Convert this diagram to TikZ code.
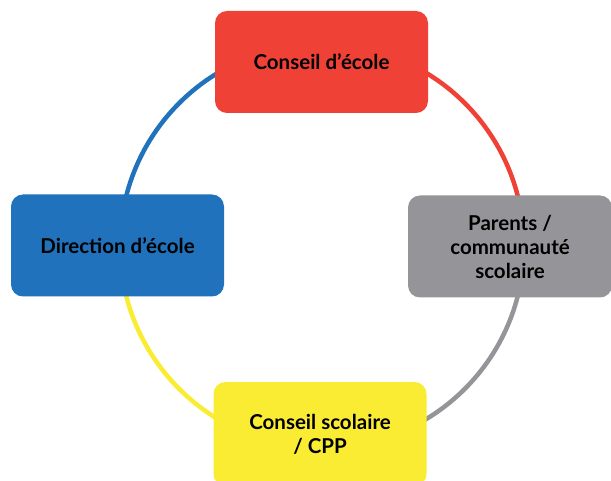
\documentclass[tikz,border=0pt]{standalone}
\usepackage{fontspec}
\setmainfont{Lato}
\usetikzlibrary{positioning}
\definecolor{boxred}{RGB}{239,65,54}
\definecolor{boxblue}{RGB}{31,114,187}
\definecolor{boxgray}{RGB}{149,149,153}
\definecolor{boxyellow}{RGB}{250,235,51}

\begin{document}
\begin{tikzpicture}[x=1pt,y=-1pt,
	box/.style={rectangle,rounded corners=12pt,align=center,
		font=\fontsize{20.5}{24}\selectfont\bfseries,text=black,
		minimum width=213pt,minimum height=102pt,inner sep=2pt},
	ring/.style={line width=4.5pt}]
\useasboundingbox (0,0) rectangle (611,481);
\coordinate (c) at (322,246);
	% y points down, so the angles run clockwise
	\draw[ring,color=boxblue] (c) ++(180:202) arc (180:270:202);
	\draw[ring,color=boxred] (c) ++(270:202) arc (270:360:202);
	\draw[ring,color=boxgray] (c) ++(0:202) arc (0:90:202);
	\draw[ring,color=boxyellow] (c) ++(90:202) arc (90:180:202);
	\node[box,fill=boxred] (conseil) at (321.5,62) {Conseil d’école};
	\node[box,fill=boxgray,minimum width=204pt] (parents) at (510,246.5) {Parents /\\communauté\\scolaire};
	\node[box,fill=boxyellow,minimum height=104pt] (cs) at (320,434) {Conseil scolaire\\/ CPP};
	\node[box,fill=boxblue] (direction) at (117.5,245.5) {Direction d’école};
\end{tikzpicture}
\end{document}
